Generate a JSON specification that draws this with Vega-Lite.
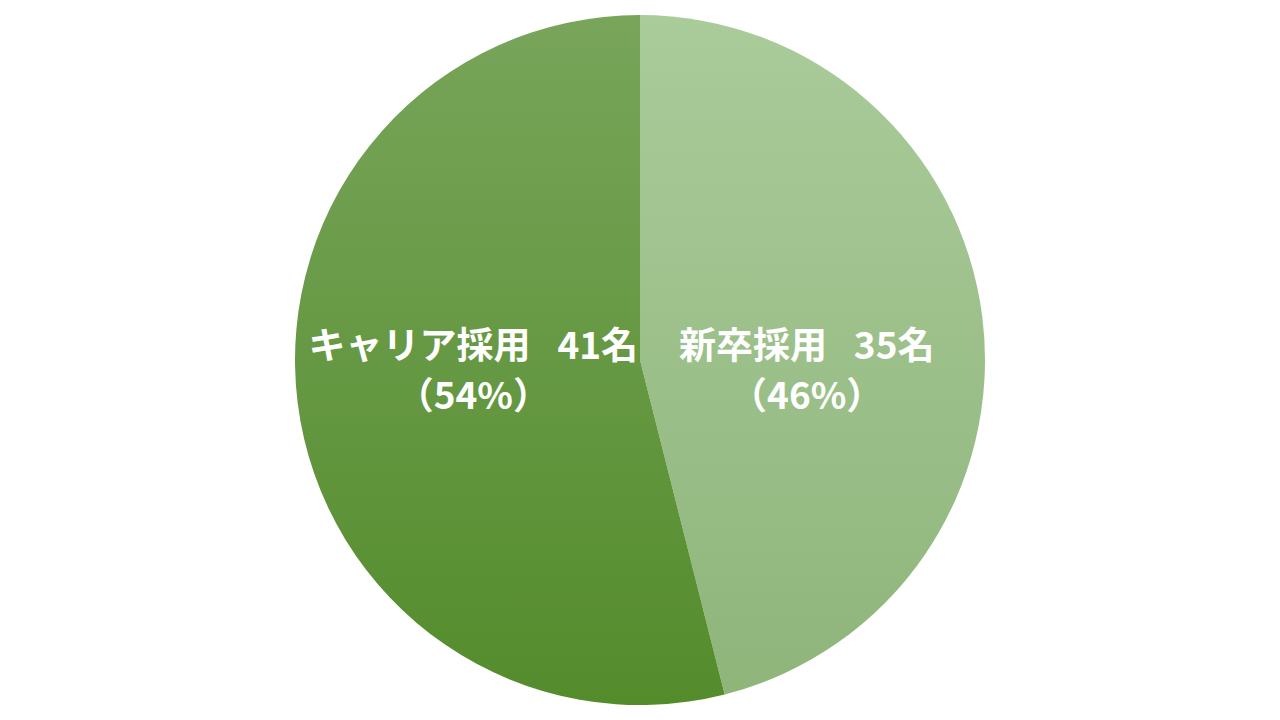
{
  "$schema": "https://vega.github.io/schema/vega-lite/v6.json",
  "width": 1280,
  "height": 720,
  "autosize": {"type": "fit", "contains": "padding"},
  "padding": 0,
  "background": "#ffffff",
  "view": {"stroke": null},
  "data": {
    "values": [
      {"category": "新卒採用", "count": 35, "order": 1, "label": ["新卒採用\u2002 35名", "（46%）"]},
      {"category": "キャリア採用", "count": 41, "order": 2, "label": ["キャリア採用\u2002 41名", "（54%）"]}
    ]
  },
  "encoding": {
    "theta": {"field": "count", "type": "quantitative", "stack": true},
    "order": {"field": "order", "type": "quantitative"}
  },
  "layer": [
    {
      "mark": {"type": "arc", "outerRadius": 345, "stroke": null},
      "encoding": {
        "fill": {
          "condition": {
            "test": "datum.category === '新卒採用'",
            "value": {"gradient": "linear", "x1": 0, "y1": 0, "x2": 0, "y2": 1,
              "stops": [{"offset": 0, "color": "#aacb9a"}, {"offset": 1, "color": "#8fb57b"}]}
          },
          "value": {"gradient": "linear", "x1": 0, "y1": 0, "x2": 0, "y2": 1,
            "stops": [{"offset": 0, "color": "#78a55a"}, {"offset": 1, "color": "#548c2c"}]}
        }
      }
    },
    {
      "mark": {"type": "text", "radius": 168, "dy": -33, "font": "Noto Sans CJK JP", "fontWeight": "bold", "fontSize": 37, "lineHeight": 50, "fill": "#ffffff", "align": "center", "baseline": "middle"},
      "encoding": {
        "text": {"condition": {"test": "datum.category === 'キャリア採用'", "field": "label"}, "value": ""}
      }
    },
    {
      "mark": {"type": "text", "radius": 168, "dy": 9, "font": "Noto Sans CJK JP", "fontWeight": "bold", "fontSize": 37, "lineHeight": 50, "fill": "#ffffff", "align": "center", "baseline": "middle"},
      "encoding": {
        "text": {"condition": {"test": "datum.category === '新卒採用'", "field": "label"}, "value": ""}
      }
    }
  ]
}
